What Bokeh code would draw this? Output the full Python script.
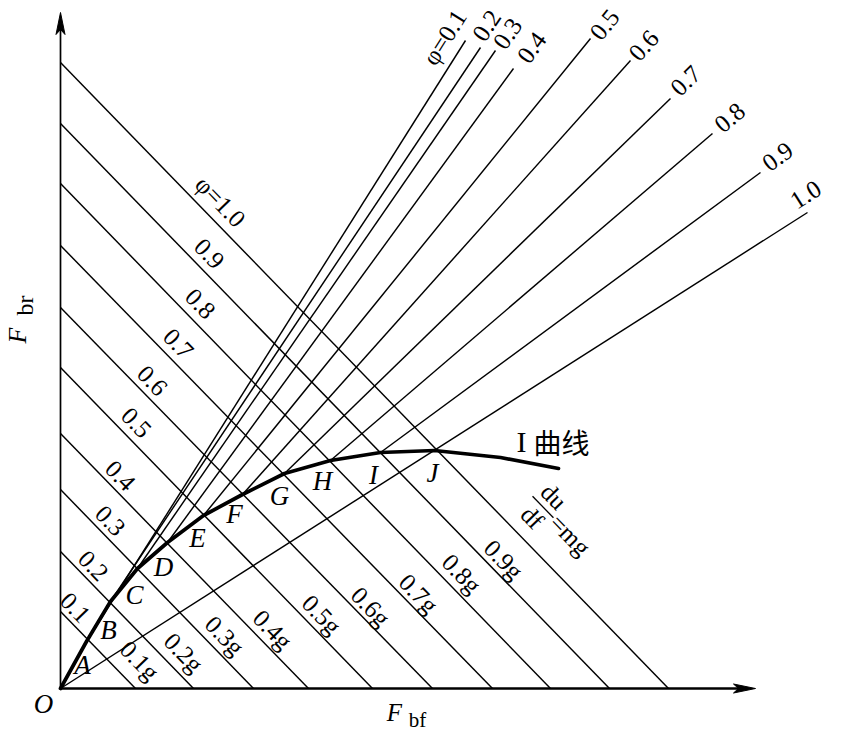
import math
from bokeh.plotting import figure
from bokeh.models import Range1d
from bokeh.core.properties import value
from bokeh.embed import file_html
from bokeh.resources import INLINE

# ---------------- data (force units, origin at O) ----------------
phi = [0.1, 0.2, 0.3, 0.4, 0.5, 0.6, 0.7, 0.8, 0.9, 1.0]
# lines F_bf + F_br = phi*G : intercepts on the F_br axis and on the F_bf axis
decel_fbr0 = [77, 137, 199, 255, 321, 381, 443, 505, 565, 626]
decel_fbf0 = [75, 133, 193, 248, 312, 372, 432, 490, 549, 608]
upper_labels = ["0.1", "0.2", "0.3", "0.4", "0.5", "0.6", "0.7", "0.8", "0.9", "φ=1.0"]
lower_labels = ["0.1g", "0.2g", "0.3g", "0.4g", "0.5g", "0.6g", "0.7g", "0.8g", "0.9g"]

# I curve: points A..J (on the phi lines) and the tail of the curve
point_names = ["A", "B", "C", "D", "E", "F", "G", "H", "I", "J"]
I_fbf = [26, 50, 77, 107, 143, 182, 224, 270, 320, 374]
I_fbr = [47, 87, 120, 146, 173, 194, 215, 228, 236, 238]
tail_fbf = [440, 498]
tail_fbr = [231, 220]

# ideal-distribution (beta) lines: outer ends
fan_end_fbf = [405, 420, 435, 453, 530, 570, 610, 652, 700, 747]
fan_end_fbr = [648, 641, 638, 620, 650, 628, 590, 555, 516, 476]
fan_labels = ["φ=0.1", "0.2", "0.3", "0.4", "0.5", "0.6", "0.7", "0.8", "0.9", "1.0"]

axis_fbf_max = 695
axis_fbr_max = 676

# ---------------- layout (label placement) ----------------
upper_pos = [(15, 81), (33, 123), (50, 168), (60, 213), (76, 266), (92, 308),
             (118, 345), (140, 385), (149, 435), (160, 487)]
lower_pos = [(79, 28), (123, 36), (164, 53), (212, 59), (261, 74), (310, 82),
             (358, 95), (401, 115), (443, 129)]
fan_pos = [(384, 651), (426, 663), (447, 655), (471, 641), (544, 664), (583, 643),
           (625, 608), (669, 571), (717, 532), (745, 494)]
letter_pos = [(22, 24), (48, 59), (74, 94), (103, 122), (137, 151), (174, 175),
              (219, 193), (262, 208), (313, 214), (372, 216)]

SERIF = value("Liberation Serif")
W, H = 825, 732
p = figure(width=W, height=H, output_backend="svg", toolbar_location=None,
           x_range=Range1d(-60, W - 60), y_range=Range1d(688 - H, 688),
           min_border=0, outline_line_color=None)
p.axis.visible = False
p.grid.visible = False
p.background_fill_color = "white"
p.border_fill_color = "white"

LW = 1.45
# axes
p.segment(x0=[0], y0=[0], x1=[axis_fbf_max - 10], y1=[0], line_color="black", line_width=2.3)
p.segment(x0=[0], y0=[0], x1=[0], y1=[axis_fbr_max - 10], line_color="black", line_width=1.7)
L, hw, notch = 22, 4.5, 5
p.patch(x=[axis_fbf_max, axis_fbf_max - L, axis_fbf_max - L + notch, axis_fbf_max - L],
        y=[0, hw, 0, -hw], color="black")
p.patch(x=[0, -hw, 0, hw],
        y=[axis_fbr_max, axis_fbr_max - L, axis_fbr_max - L + notch, axis_fbr_max - L], color="black")

# phi*G lines
p.segment(x0=[0] * len(phi), y0=decel_fbr0, x1=decel_fbf0, y1=[0] * len(phi),
          line_color="black", line_width=LW)

# beta lines: phi=0.1..0.9 start on the I curve, phi=1.0 from O
fan_start_x = I_fbf[:-1] + [0]
fan_start_y = I_fbr[:-1] + [0]
p.segment(x0=fan_start_x, y0=fan_start_y, x1=fan_end_fbf, y1=fan_end_fbr,
          line_color="black", line_width=LW)

# I curve
p.line(x=[0] + I_fbf + tail_fbf, y=[0] + I_fbr + tail_fbr, line_color="black",
       line_width=3.7, line_join="round", line_cap="round")

# labels of phi*G lines
ang = [math.atan2(-b, a) for a, b in zip(decel_fbf0, decel_fbr0)]
p.text(x=[q[0] for q in upper_pos], y=[q[1] for q in upper_pos], text=upper_labels,
       angle=ang, text_font=SERIF, text_font_size="25px", text_align="center",
       text_baseline="middle", text_color="black")
p.text(x=[q[0] for q in lower_pos], y=[q[1] for q in lower_pos], text=lower_labels,
       angle=ang[:-1], text_font=SERIF, text_font_size="25px", text_align="center",
       text_baseline="middle", text_color="black")

# labels of beta lines
fan_ang = [math.atan2(ey - sy, ex - sx) for sx, sy, ex, ey in
           zip(fan_start_x, fan_start_y, fan_end_fbf, fan_end_fbr)]
p.text(x=[q[0] for q in fan_pos], y=[q[1] for q in fan_pos], text=fan_labels,
       angle=fan_ang, text_font=SERIF, text_font_size="25px", text_align="center",
       text_baseline="middle", text_color="black")

# point letters
p.text(x=[q[0] for q in letter_pos], y=[q[1] for q in letter_pos], text=point_names,
       text_font=SERIF, text_font_style="italic", text_font_size="27px",
       text_align="center", text_baseline="middle", text_color="black")

# du/dt = mg label on phi=1.0 line
a = ang[-1]
ux, uy = math.cos(a), math.sin(a)
nx, ny = -math.sin(a), math.cos(a)
bx, by = 482.5, 181.5
p.segment(x0=[bx - 15 * ux], y0=[by - 15 * uy], x1=[bx + 15 * ux], y1=[by + 15 * uy],
          line_color="black", line_width=1.3)
p.text(x=[bx + 15 * nx, bx - 15 * nx], y=[by + 15 * ny, by - 15 * ny], text=["du", "df"],
       angle=a, text_font=SERIF, text_font_size="25px", text_align="center",
       text_baseline="middle", text_color="black")
p.text(x=[bx + 16 * ux], y=[by + 16 * uy], text=["=mg"], angle=a, text_font=SERIF,
       text_font_size="25px", text_align="left", text_baseline="middle", text_color="black")

# I curve name
p.text(x=[461], y=[247], text=["I"], text_font=SERIF, text_font_size="30px",
       text_align="center", text_baseline="middle", text_color="black")
p.text(x=[501], y=[247], text=["曲线"], text_font=value("Noto Sans CJK SC"),
       text_font_size="28px", text_align="center", text_baseline="middle", text_color="black")

# axis names and origin
p.text(x=[-17], y=[-15], text=["O"], text_font=SERIF, text_font_style="italic",
       text_font_size="27px", text_align="center", text_baseline="middle", text_color="black")
p.text(x=[334], y=[-24], text=["F"], text_font=SERIF, text_font_style="italic",
       text_font_size="25px", text_align="center", text_baseline="middle", text_color="black")
p.text(x=[357], y=[-31], text=["bf"], text_font=SERIF,
       text_font_size="21px", text_align="center", text_baseline="middle", text_color="black")
p.text(x=[-43], y=[353], text=["F"], angle=math.pi / 2, text_font=SERIF,
       text_font_style="italic", text_font_size="26px", text_align="center",
       text_baseline="middle", text_color="black")
p.text(x=[-36], y=[383], text=["br"], angle=math.pi / 2, text_font=SERIF,
       text_font_size="24px", text_align="center", text_baseline="middle", text_color="black")

open("out.html", "w").write(file_html(p, INLINE))
